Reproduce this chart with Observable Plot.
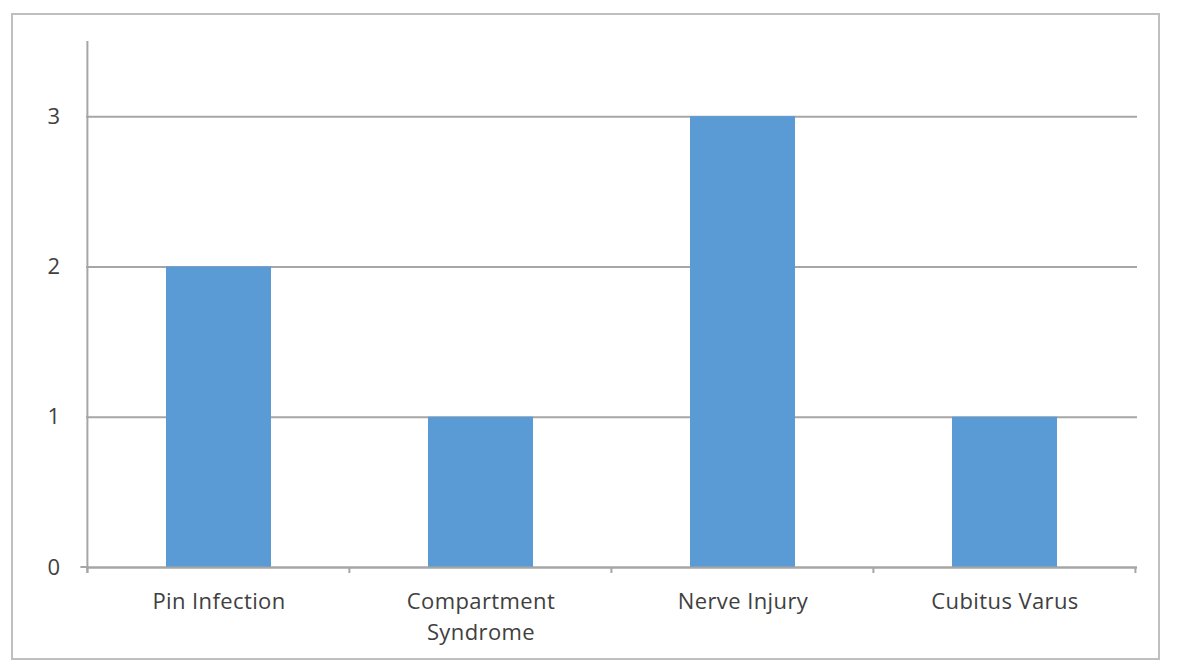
<!DOCTYPE html>
<html>
<head>
<meta charset="utf-8">
<script src="https://cdn.jsdelivr.net/npm/d3@7"></script>
<script src="https://cdn.jsdelivr.net/npm/@observablehq/plot@0.6"></script>
<style>
  html, body { margin: 0; padding: 0; background: #fff; }
  #wrap { position: relative; width: 1185px; height: 672px; }
  #frame { position: absolute; left: 11px; top: 13px; width: 1149px; height: 647px; border: 2px solid #bfbfbf; box-sizing: border-box; pointer-events: none; }
</style>
</head>
<body>
<div id="wrap"><div id="frame"></div></div>
<script>
const categories = ["Pin Infection", "Compartment Syndrome", "Nerve Injury", "Cubitus Varus"];
const values = [2, 1, 3, 1];
const tickLabels = {"Pin Infection": "Pin Infection", "Compartment Syndrome": "Compartment\nSyndrome", "Nerve Injury": "Nerve Injury", "Cubitus Varus": "Cubitus Varus"};
const yTicks = [0, 1, 2, 3];

const data = categories.map((c, i) => ({category: c, value: values[i]}));

const plot = Plot.plot({
  width: 1185,
  height: 672,
  marginLeft: 86,
  marginRight: 48,
  marginTop: 41,
  marginBottom: 105,
  style: {fontFamily: "'Open Sans', sans-serif", fontSize: "22px", color: "#404040", background: "transparent", letterSpacing: "0.4px"},
  x: {domain: categories, paddingInner: 0.6, paddingOuter: 0.3, label: null},
  y: {domain: [0, 3.5], label: null},
  marks: [
    Plot.gridY(yTicks, {stroke: "#a6a6a6", strokeOpacity: 1, strokeWidth: 2}),
    Plot.barY(data, {x: "category", y: "value", fill: "#5b9bd5"}),
    Plot.ruleY([0], {stroke: "#a6a6a6", strokeWidth: 2}),
    Plot.axisY(yTicks, {tickSize: 0, tickPadding: 26, tickFormat: d3.format("d"), fill: "#404040", label: null}),
    Plot.axisX({tickSize: 0, tickPadding: 19, tickFormat: d => tickLabels[d], lineHeight: 1.41, fill: "#404040", label: null})
  ]
});

document.getElementById("wrap").prepend(plot);

// vertical axis line and band-boundary ticks on the category axis
const xs = plot.scale("x");
const ys = plot.scale("y");
const svg = d3.select(plot);
const step = xs.step;
const bounds = [];
const x0 = xs.apply(categories[0]) - step * xs.paddingInner / 2;
for (let i = 0; i <= categories.length; i++) bounds.push(x0 + i * step);
const y0 = ys.apply(0);
svg.append("g").selectAll("line").data(bounds).join("line")
  .attr("x1", d => d).attr("x2", d => d)
  .attr("y1", y0).attr("y2", y0 + 6)
  .attr("stroke", "#a6a6a6").attr("stroke-width", 2);
svg.append("line")
  .attr("x1", bounds[0]).attr("x2", bounds[0])
  .attr("y1", ys.apply(3.5)).attr("y2", y0 + 6)
  .attr("stroke", "#a6a6a6").attr("stroke-width", 2);
svg.append("line")
  .attr("x1", bounds[0] - 7).attr("x2", bounds[0])
  .attr("y1", y0).attr("y2", y0)
  .attr("stroke", "#a6a6a6").attr("stroke-width", 2);
</script>
</body>
</html>
